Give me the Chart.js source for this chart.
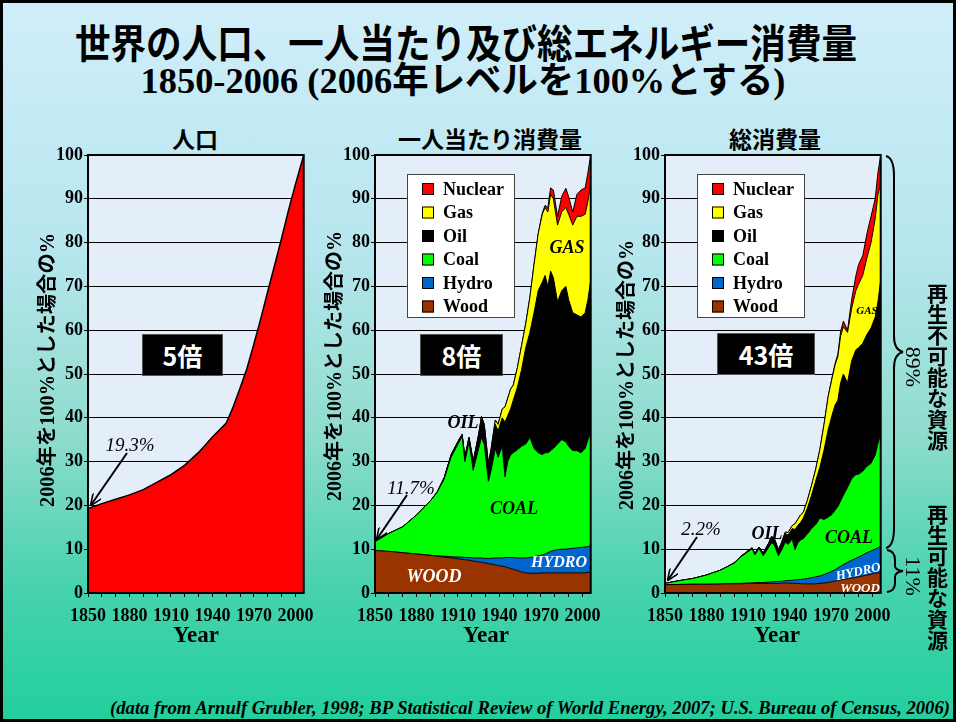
<!DOCTYPE html>
<html lang="ja">
<head>
<meta charset="UTF-8">
<title>世界の人口、一人当たり及び総エネルギー消費量</title>
<script src="https://cdn.jsdelivr.net/npm/chart.js"></script>
<style>
  body { margin: 0; overflow: hidden; }
  #page {
    position: relative; width: 956px; height: 722px; overflow: hidden;
    background: linear-gradient(#d0eefa 0%, #b6e6ee 35%, #8fdccd 60%, #45d2ac 82%, #22cf9c 100%);
    font-family: "Liberation Serif", serif; color: #000;
  }
  .frame { position: absolute; left: 0; top: 0; width: 956px; height: 722px; box-sizing: border-box; border: 3px solid #000; pointer-events: none; }
  .abs { position: absolute; white-space: nowrap; line-height: 1; transform: translate(-50%, -50%); }
  .jp { font-family: "Noto Sans CJK JP", sans-serif; font-weight: 700; }
  .mixed { font-family: "Liberation Serif", "Noto Sans CJK JP", serif; font-weight: 700; }
  .lbl { font-style: italic; font-weight: 700; }
  .pct { font-style: italic; font-size: 19px; }
  .white { color: #fff; }
  .vert { writing-mode: vertical-rl; font-family: "Noto Sans CJK JP", sans-serif; font-weight: 700; font-size: 21px; }
  .times { position: absolute; background: #000; color: #fff; border: 1px solid #555; box-sizing: border-box;
           display: flex; align-items: center; justify-content: center;
           font-family: "Noto Sans CJK JP", sans-serif; font-weight: 700; font-size: 25px; }
  canvas { position: absolute; top: 140px; }
  svg { position: absolute; left: 0; top: 0; pointer-events: none; }
</style>
</head>
<body>
<div id="page">
  <div class="abs jp" data-fit="782" style="left:466px;top:41px;font-size:40px">世界の人口、一人当たり及び総エネルギー消費量</div>
  <div class="abs mixed" data-fit="645" style="left:463px;top:81px;font-size:36px">1850-2006 (2006年レベルを100%とする)</div>

  <div class="abs jp" style="left:195px;top:138px;font-size:23px">人口</div>
  <div class="abs jp" style="left:490px;top:138px;font-size:23px">一人当たり消費量</div>
  <div class="abs jp" style="left:775px;top:138px;font-size:23px">総消費量</div>

  <canvas id="popChart" width="290" height="500" style="left:33px"></canvas>
  <canvas id="perCapitaChart" width="290" height="500" style="left:320px"></canvas>
  <canvas id="totalChart" width="290" height="500" style="left:610px"></canvas>

  <!-- axis titles -->
  <div class="abs mixed" data-fit="274" data-rot="-90" style="left:47px;top:370px;font-size:20px">2006年を100%とした場合の%</div>
  <div class="abs mixed" data-fit="270" data-rot="-90" style="left:334px;top:366px;font-size:20px">2006年を100%とした場合の%</div>
  <div class="abs mixed" data-fit="270" data-rot="-90" style="left:626px;top:375px;font-size:20px">2006年を100%とした場合の%</div>
  <div class="abs" style="left:196px;top:634px;font-size:23px;font-weight:700">Year</div>
  <div class="abs" style="left:486px;top:634px;font-size:23px;font-weight:700">Year</div>
  <div class="abs" style="left:777px;top:634px;font-size:23px;font-weight:700">Year</div>

  <!-- growth factors -->
  <div class="times" style="left:142px;top:334px;width:81px;height:42px">5倍</div>
  <div class="times" style="left:420px;top:334px;width:83px;height:42px">8倍</div>
  <div class="times" style="left:717px;top:333px;width:98px;height:42px">43倍</div>

  <!-- starting values and layer names -->
  <div class="abs pct" style="left:130px;top:444px">19.3%</div>
  <div class="abs pct" style="left:411px;top:487px">11.7%</div>
  <div class="abs pct" style="left:701px;top:528px">2.2%</div>

  <div class="abs lbl" style="left:463px;top:422px;font-size:18px">OIL</div>
  <div class="abs lbl" style="left:567px;top:247px;font-size:18px">GAS</div>
  <div class="abs lbl" style="left:514px;top:508px;font-size:18px">COAL</div>
  <div class="abs lbl white" style="left:434px;top:576px;font-size:18px">WOOD</div>
  <div class="abs lbl white" style="left:559px;top:562px;font-size:16px">HYDRO</div>

  <div class="abs lbl" style="left:767px;top:533px;font-size:18px">OIL</div>
  <div class="abs lbl" style="left:849px;top:537px;font-size:18px">COAL</div>
  <div class="abs lbl" style="left:867px;top:310px;font-size:11px">GAS</div>
  <div class="abs lbl white" style="left:858px;top:571px;font-size:13px;transform:translate(-50%,-50%) rotate(-12deg)">HYDRO</div>
  <div class="abs lbl white" style="left:860px;top:587px;font-size:13px">WOOD</div>

  <!-- renewable / non-renewable split -->
  <div class="abs" style="left:913px;top:367px;font-size:22px;transform:translate(-50%,-50%) rotate(90deg)">89%</div>
  <div class="abs" style="left:913px;top:576px;font-size:22px;transform:translate(-50%,-50%) rotate(90deg)">11%</div>
  <div class="abs vert" style="left:937px;top:367px">再生不可能な資源</div>
  <div class="abs vert" style="left:937px;top:577px">再生可能な資源</div>

  <div class="abs lbl" data-fit="840" style="left:530px;top:708px;font-size:18px">(data from Arnulf Grubler, 1998; BP Statistical Review of World Energy, 2007; U.S. Bureau of Census, 2006)</div>

  <svg width="956" height="722">
    <defs>
      <marker id="head" markerWidth="12" markerHeight="10" refX="11" refY="5" orient="auto" markerUnits="userSpaceOnUse">
        <path d="M0,0 L12,5 L0,10" fill="none" stroke="#000" stroke-width="1.6"/>
      </marker>
    </defs>
    <g stroke="#000" stroke-width="2" fill="none">
      <line x1="127" y1="453" x2="91" y2="505" marker-end="url(#head)"/>
      <line x1="407" y1="495" x2="377" y2="539" marker-end="url(#head)"/>
      <line x1="697" y1="537" x2="668" y2="580" marker-end="url(#head)"/>
      <!-- braces -->
      <path d="M886,156 Q894,158 894,176 L894,336 Q894,350 903,352 Q894,354 894,368 L894,528 Q894,546 886,548"/>
      <path d="M887,550 Q895,551 895,560 L895,566 Q895,570 903,571 Q895,572 895,577 L895,583 Q895,591 887,592"/>
    </g>
  </svg>
  <div class="frame"></div>
</div>

<script>
  // population, share of the 2006 level (%)
  const popYears = [1850, 1860, 1870, 1880, 1890, 1900, 1910, 1920, 1930, 1940, 1950,
                    1955, 1960, 1965, 1970, 1975, 1980, 1985, 1990, 1995, 2000, 2006];
  const popShare = [19.3, 20.4, 21.4, 22.4, 23.6, 25.3, 27.0, 29.2, 32.1, 35.6, 38.8,
                    42.5, 46.8, 51.3, 56.9, 62.7, 68.9, 74.9, 81.0, 87.4, 93.3, 100];

  // energy series share one set of years; each array is the upper edge of its layer
  const years = [1850, 1860, 1870, 1880, 1890, 1895, 1900, 1905, 1910, 1913,
                 1915, 1918, 1921, 1925, 1927, 1929, 1932, 1934, 1937, 1939,
                 1942, 1944, 1946, 1948, 1950, 1953, 1956, 1959, 1962, 1965,
                 1968, 1971, 1973, 1975, 1977, 1979, 1982, 1985, 1988, 1990,
                 1993, 1996, 1999, 2002, 2004, 2006];

  const sources = ['Wood', 'Hydro', 'Coal', 'Oil', 'Gas', 'Nuclear'];
  const sourceColors = ['#993300', '#0066cc', '#00ff00', '#000000', '#ffff00', '#ff0000'];

  // per capita consumption
  const pcWood = [9.7, 9.5, 9.2, 8.9, 8.6, 8.4, 8.2, 8.0, 7.8, 7.7,
                  7.6, 7.5, 7.3, 7.1, 7.0, 6.9, 6.7, 6.6, 6.4, 6.3,
                  6.1, 6.0, 5.8, 5.6, 5.4, 5.1, 4.8, 4.6, 4.5, 4.5,
                  4.5, 4.6, 4.6, 4.6, 4.6, 4.6, 4.6, 4.6, 4.6, 4.6,
                  4.6, 4.6, 4.6, 4.6, 4.7, 4.7];
  const pcHydro = [9.7, 9.5, 9.2, 8.9, 8.6, 8.5, 8.4, 8.3, 8.2, 8.2,
                   8.1, 8.1, 8.0, 8.0, 8.0, 7.9, 7.9, 7.9, 8.0, 8.0,
                   8.0, 8.1, 8.1, 8.1, 8.1, 8.0, 8.0, 8.0, 8.1, 8.3,
                   8.5, 8.7, 8.9, 9.2, 9.5, 9.7, 9.9, 10.0, 10.0, 10.1,
                   10.2, 10.3, 10.4, 10.5, 10.6, 10.8];
  const pcCoal = [11.7, 13.6, 15.1, 17.8, 21.0, 23.0, 26.0, 31.0, 34.0, 35.7,
                  30.0, 34.5, 28.0, 33.0, 35.5, 34.0, 25.5, 28.0, 33.0, 31.0,
                  33.5, 26.5, 30.0, 31.5, 32.0, 32.7, 33.5, 34.0, 35.5, 33.0,
                  32.0, 31.6, 32.0, 32.0, 32.5, 33.0, 34.0, 35.0, 34.5, 33.5,
                  32.5, 32.5, 32.0, 33.0, 35.0, 36.5];
  const pcOil = [11.7, 13.6, 15.1, 17.8, 21.0, 23.1, 26.3, 31.5, 34.6, 36.2,
                 31.0, 35.5, 30.0, 36.0, 40.0, 38.0, 29.0, 32.5, 38.5, 37.0,
                 40.0, 39.0, 40.5, 42.0, 44.0, 47.0, 51.0, 56.0, 59.5, 64.0,
                 69.0, 71.0, 72.5, 70.0, 73.5, 72.0, 66.5, 69.0, 70.0, 67.0,
                 64.0, 63.5, 63.0, 64.0, 67.0, 71.5];
  const pcGas = [11.7, 13.6, 15.1, 17.8, 21.0, 23.1, 26.3, 31.5, 34.6, 36.2,
                 31.0, 35.5, 30.0, 36.3, 40.3, 38.5, 29.5, 33.0, 39.5, 38.5,
                 42.0, 42.5, 44.5, 46.5, 47.5, 51.5, 56.5, 61.5, 67.5, 75.0,
                 82.0, 86.5, 88.0, 87.0, 91.0, 90.0, 84.0, 87.0, 88.0, 86.5,
                 84.0, 86.0, 86.0, 86.5, 89.5, 93.5];
  const pcNuclear = [11.7, 13.6, 15.1, 17.8, 21.0, 23.1, 26.3, 31.5, 34.6, 36.2,
                     31.0, 35.5, 30.0, 36.3, 40.3, 38.5, 29.5, 33.0, 39.5, 38.5,
                     42.0, 42.5, 44.5, 46.5, 47.5, 51.5, 56.5, 61.5, 67.5, 75.0,
                     82.0, 86.8, 88.5, 88.0, 92.5, 92.0, 86.0, 90.5, 92.4, 90.5,
                     87.0, 91.0, 92.0, 92.5, 96.0, 100];

  // total consumption
  const totWood = [1.9, 1.95, 2.0, 2.0, 2.05, 2.1, 2.1, 2.1, 2.2, 2.2,
                   2.2, 2.2, 2.2, 2.2, 2.2, 2.2, 2.2, 2.25, 2.25, 2.25,
                   2.2, 2.2, 2.2, 2.15, 2.1, 2.1, 2.1, 2.1, 2.2, 2.3,
                   2.4, 2.6, 2.7, 2.8, 3.0, 3.1, 3.3, 3.4, 3.6, 3.7,
                   3.9, 4.1, 4.3, 4.5, 4.6, 4.7];
  const totHydro = [1.9, 1.95, 2.0, 2.0, 2.05, 2.1, 2.2, 2.2, 2.3, 2.3,
                    2.35, 2.4, 2.4, 2.5, 2.55, 2.6, 2.65, 2.7, 2.8, 2.85,
                    2.9, 3.0, 3.05, 3.1, 3.15, 3.3, 3.5, 3.7, 3.9, 4.2,
                    4.6, 5.0, 5.3, 5.7, 6.1, 6.5, 7.0, 7.5, 7.9, 8.2,
                    8.7, 9.2, 9.6, 10.0, 10.3, 10.8];
  const totCoal = [2.2, 2.8, 3.3, 4.1, 5.2, 6.0, 6.8, 8.3, 9.4, 10.1,
                   8.7, 10.2, 8.5, 10.4, 11.4, 11.0, 8.5, 9.6, 11.6, 11.1,
                   12.3, 9.9, 11.4, 12.1, 12.4, 13.5, 14.7, 15.6, 17.1, 16.8,
                   17.3, 18.0, 18.9, 19.7, 21.0, 22.3, 24.1, 26.1, 27.0, 27.1,
                   27.8, 28.9, 29.6, 31.5, 34.1, 36.5];
  const totOil = [2.2, 2.8, 3.3, 4.1, 5.2, 6.0, 6.9, 8.4, 9.6, 10.3,
                  9.0, 10.5, 9.1, 11.3, 12.8, 12.4, 9.7, 11.1, 13.6, 13.2,
                  14.7, 14.5, 15.4, 16.1, 17.1, 19.4, 22.3, 25.6, 28.7, 32.6,
                  37.3, 40.8, 42.9, 44.0, 48.0, 50.0, 48.0, 53.0, 55.5, 56.0,
                  57.0, 59.0, 60.5, 63.0, 66.5, 71.5];
  const totGas = [2.2, 2.8, 3.3, 4.1, 5.2, 6.0, 6.9, 8.4, 9.6, 10.3,
                  9.0, 10.5, 9.1, 11.4, 12.9, 12.5, 9.9, 11.3, 13.9, 13.8,
                  15.4, 15.8, 16.8, 17.8, 18.4, 21.2, 24.6, 28.3, 32.8, 38.5,
                  44.9, 49.3, 52.1, 54.0, 58.7, 60.8, 59.5, 65.0, 69.0, 70.5,
                  72.5, 76.5, 80.0, 85.5, 91.0, 93.5];
  const totNuclear = [2.2, 2.8, 3.3, 4.1, 5.2, 6.0, 6.9, 8.4, 9.6, 10.3,
                      9.0, 10.5, 9.1, 11.4, 12.9, 12.5, 9.9, 11.3, 13.9, 13.8,
                      15.4, 15.8, 16.8, 17.8, 18.4, 21.2, 24.6, 28.3, 32.8, 38.5,
                      44.9, 49.5, 52.4, 54.5, 59.7, 62.1, 60.0, 67.0, 72.4, 75.0,
                      77.0, 82.0, 86.0, 90.0, 96.0, 100];

  const tickFont = { family: '"Liberation Serif", serif', size: 18, weight: 'bold' };

  // pale plot background under the grid, black frame on top of the areas
  const plotFrame = {
    id: 'plotFrame',
    beforeDraw(chart) {
      const { ctx, chartArea: a } = chart;
      ctx.save();
      ctx.fillStyle = '#e4eef8';
      ctx.fillRect(a.left, a.top, a.width, a.height);
      ctx.restore();
    },
    afterDatasetsDraw(chart) {
      const { ctx, chartArea: a } = chart;
      ctx.save();
      ctx.strokeStyle = '#000';
      ctx.lineWidth = 2;
      ctx.strokeRect(a.left, a.top, a.width, a.height);
      ctx.restore();
    }
  };

  // boxed legend inside the top-left of the plot, top layer first
  const legendBox = {
    id: 'legendBox',
    afterDatasetsDraw(chart, args, opts) {
      if (!opts.show) return;
      const { ctx, chartArea: a } = chart;
      const x = a.left + 32, y = a.top + 19;
      ctx.save();
      ctx.fillStyle = '#fff';
      ctx.fillRect(x, y, 107, 143);
      ctx.strokeStyle = '#444';
      ctx.lineWidth = 1;
      ctx.strokeRect(x + 0.5, y + 0.5, 107, 143);
      ctx.font = 'bold 18px "Liberation Serif", serif';
      ctx.textBaseline = 'middle';
      chart.data.datasets.slice().reverse().forEach((ds, i) => {
        const cy = y + 15 + i * 23.5;
        ctx.fillStyle = ds.backgroundColor;
        ctx.fillRect(x + 15, cy - 6, 12, 12);
        ctx.strokeStyle = '#000';
        ctx.strokeRect(x + 15.5, cy - 5.5, 11, 11);
        ctx.fillStyle = '#000';
        ctx.fillText(ds.label, x + 36, cy + 1);
      });
      ctx.restore();
    }
  };

  function chartOptions(showLegend) {
    return {
      responsive: false,
      animation: false,
      layout: { padding: { top: 15, right: 15, left: 0, bottom: 0 } },
      elements: { point: { radius: 0 }, line: { tension: 0 } },
      plugins: {
        legend: { display: false },
        tooltip: { enabled: false },
        legendBox: { show: showLegend }
      },
      scales: {
        x: {
          type: 'linear', min: 1850, max: 2006,
          afterFit: s => { s.height = 47; },
          border: { display: false },
          grid: { drawOnChartArea: false, color: '#000', tickLength: 4 },
          ticks: {
            stepSize: 10, includeBounds: false, autoSkip: false, maxRotation: 0,
            padding: 9, color: '#000', font: tickFont,
            callback: v => (Math.round(v) - 1850) % 30 === 0 ? String(Math.round(v)) : ''
          }
        },
        y: {
          min: 0, max: 100,
          afterFit: s => { s.width = 55; },
          border: { display: false },
          grid: { color: '#000', lineWidth: 1, tickLength: 4 },
          ticks: { stepSize: 10, padding: 1, color: '#000', font: tickFont }
        }
      }
    };
  }

  function layerDatasets(edges) {
    return sources.map((name, i) => ({
      label: name,
      data: years.map((yr, j) => ({ x: yr, y: edges[i][j] })),
      fill: i === 0 ? 'origin' : '-1',
      backgroundColor: sourceColors[i],
      borderColor: '#000',
      borderWidth: 1
    }));
  }

  new Chart(document.getElementById('popChart'), {
    type: 'line',
    data: {
      datasets: [{
        label: 'Population',
        data: popYears.map((yr, i) => ({ x: yr, y: popShare[i] })),
        fill: 'origin',
        backgroundColor: '#ff0000',
        borderColor: '#000',
        borderWidth: 1.5
      }]
    },
    options: chartOptions(false),
    plugins: [plotFrame, legendBox]
  });

  new Chart(document.getElementById('perCapitaChart'), {
    type: 'line',
    data: { datasets: layerDatasets([pcWood, pcHydro, pcCoal, pcOil, pcGas, pcNuclear]) },
    options: chartOptions(true),
    plugins: [plotFrame, legendBox]
  });

  new Chart(document.getElementById('totalChart'), {
    type: 'line',
    data: { datasets: layerDatasets([totWood, totHydro, totCoal, totOil, totGas, totNuclear]) },
    options: chartOptions(true),
    plugins: [plotFrame, legendBox]
  });

  // squeeze long text lines to their set widths
  function fitText() {
    document.querySelectorAll('[data-fit]').forEach(el => {
      const s = +el.dataset.fit / el.offsetWidth;
      const rot = el.dataset.rot ? ` rotate(${el.dataset.rot}deg)` : '';
      el.style.transform = `translate(-50%, -50%)${rot} scaleX(${s})`;
    });
  }
  fitText();
  if (document.fonts) document.fonts.ready.then(fitText);
</script>
</body>
</html>
